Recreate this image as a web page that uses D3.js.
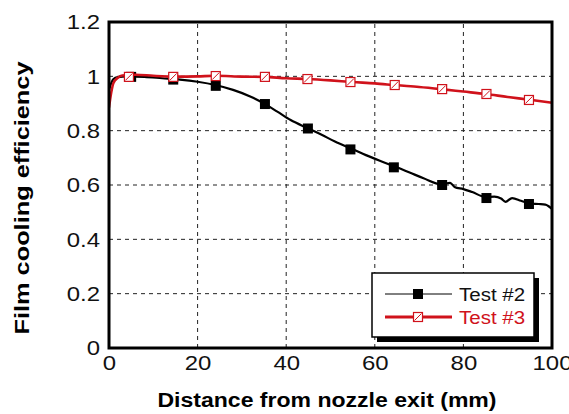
<!DOCTYPE html>
<html>
<head>
<meta charset="utf-8">
<script src="https://cdn.jsdelivr.net/npm/d3@7"></script>
<style>
  html, body { margin: 0; padding: 0; background: #fff; }
  text { font-family: "Liberation Sans", Arial, sans-serif; }
</style>
</head>
<body>
<div id="chart"></div>
<script>
// curve traces
const test2Line = [
  [0, 0.95], [0.5, 0.975], [1, 0.99], [2, 0.997], [4, 1.0], [8, 0.998], [12, 0.993],
  [16, 0.988], [20, 0.98], [24, 0.968], [28, 0.95], [32, 0.925], [35, 0.9],
  [38, 0.87], [41, 0.839], [45, 0.808], [48, 0.785], [51, 0.76], [55, 0.732],
  [58, 0.71], [61, 0.69], [65, 0.665], [68, 0.645], [71, 0.625], [75, 0.603],
  [77, 0.608], [78, 0.593], [80, 0.585], [82, 0.574], [85, 0.556], [87, 0.557],
  [88.5, 0.55], [89.5, 0.538], [91, 0.552], [93, 0.542], [95, 0.532], [97, 0.53],
  [98.5, 0.528], [100, 0.512]
];
const test3Line = [
  [0, 0.885], [0.5, 0.94], [1, 0.975], [2, 0.995], [3, 1.003], [6, 1.006], [10, 1.002],
  [15, 0.999], [20, 1.0], [24, 1.002], [30, 0.999], [35, 0.998], [40, 0.993],
  [45, 0.99], [50, 0.985], [55, 0.979], [60, 0.974], [65, 0.967], [70, 0.961],
  [75, 0.953], [80, 0.944], [85, 0.935], [90, 0.924], [95, 0.914], [100, 0.903]
];
// marker positions
const test2Marks = [[5, 0.998], [14.5, 0.988], [24.1, 0.965], [35.2, 0.898], [44.9, 0.808],
  [54.5, 0.731], [64.3, 0.665], [75.2, 0.6], [85.2, 0.552], [94.8, 0.53]];
const test3Marks = [[4.5, 0.998], [14.5, 0.998], [24.1, 1.001], [35.2, 0.998], [44.8, 0.99],
  [54.5, 0.979], [64.5, 0.968], [75.2, 0.953], [85.2, 0.935], [94.8, 0.913]];
const xTicks = [0, 20, 40, 60, 80, 100];
const yTicks = [0, 0.2, 0.4, 0.6, 0.8, 1, 1.2];
const seriesNames = ["Test #2", "Test #3"];

const width = 569, height = 414;
const margin = { top: 22, right: 17, bottom: 66, left: 109 };
const red = "#d0121b";
const stretch = 1.14; // the source text is a bit wider than Arial

const svg = d3.select("#chart").append("svg")
  .attr("width", width).attr("height", height);

const widen = sel => sel.each(function () {
  const w = this.getComputedTextLength();
  d3.select(this).attr("textLength", w * stretch).attr("lengthAdjust", "spacingAndGlyphs");
});

const x = d3.scaleLinear().domain([0, 100]).range([margin.left, width - margin.right]);
const y = d3.scaleLinear().domain([0, 1.2]).range([height - margin.bottom, margin.top]);

// grid
svg.append("g").selectAll("line")
  .data(xTicks.slice(1, -1))
  .join("line")
  .attr("x1", d => x(d)).attr("x2", d => x(d))
  .attr("y1", y(0)).attr("y2", y(1.2))
  .attr("stroke", "#222").attr("stroke-width", 1)
  .attr("stroke-dasharray", "4,4");
svg.append("g").selectAll("line")
  .data(yTicks.slice(1, -1))
  .join("line")
  .attr("x1", x(0)).attr("x2", x(100))
  .attr("y1", d => y(d)).attr("y2", d => y(d))
  .attr("stroke", "#222").attr("stroke-width", 1)
  .attr("stroke-dasharray", "4,4");

// axes labels
svg.append("g")
  .attr("transform", `translate(0,${y(0)})`)
  .call(d3.axisBottom(x).tickValues(xTicks).tickSize(0).tickPadding(7).tickFormat(d3.format("d")))
  .call(g => g.select(".domain").remove())
  .selectAll("text")
  .style("font-size", "21px").attr("fill", "#111")
  .attr("font-family", "Liberation Sans, Arial, sans-serif")
  .call(widen);

svg.append("g")
  .attr("transform", `translate(${x(0)},0)`)
  .call(d3.axisLeft(y).tickValues(yTicks).tickSize(0).tickPadding(9).tickFormat(d => d3.format("")(+d.toFixed(1))))
  .call(g => g.select(".domain").remove())
  .selectAll("text")
  .style("font-size", "21px").attr("fill", "#111")
  .attr("font-family", "Liberation Sans, Arial, sans-serif")
  .call(widen);

svg.append("text")
  .attr("x", 327).attr("y", 407)
  .attr("text-anchor", "middle")
  .style("font-size", "20px").style("font-weight", "bold")
  .attr("textLength", 339).attr("lengthAdjust", "spacingAndGlyphs")
  .text("Distance from nozzle exit (mm)");

svg.append("text")
  .attr("transform", `translate(29,198) rotate(-90)`)
  .attr("text-anchor", "middle")
  .style("font-size", "20px").style("font-weight", "bold")
  .attr("textLength", 273).attr("lengthAdjust", "spacingAndGlyphs")
  .text("Film cooling efficiency");

// lines
const line = d3.line().x(d => x(d[0])).y(d => y(d[1])).curve(d3.curveMonotoneX);
svg.append("clipPath").attr("id", "clip")
  .append("rect").attr("x", x(0)).attr("y", y(1.2))
  .attr("width", x(100) - x(0)).attr("height", y(0) - y(1.2));

const plot = svg.append("g").attr("clip-path", "url(#clip)");
plot.append("path").datum(test2Line)
  .attr("d", line).attr("fill", "none").attr("stroke", "#000").attr("stroke-width", 2.2);
plot.selectAll(".m2").data(test2Marks).join("rect")
  .attr("x", d => x(d[0]) - 5).attr("y", d => y(d[1]) - 5)
  .attr("width", 10).attr("height", 10).attr("fill", "#000");

plot.append("path").datum(test3Line)
  .attr("d", line).attr("fill", "none").attr("stroke", red).attr("stroke-width", 2.6);

function redMarker(sel) {
  sel.append("rect")
    .attr("x", -4.5).attr("y", -4.5).attr("width", 9).attr("height", 9)
    .attr("fill", "#fff").attr("stroke", red).attr("stroke-width", 1.2);
  sel.append("line")
    .attr("x1", -3.5).attr("y1", 3.5).attr("x2", 3.5).attr("y2", -3.5)
    .attr("stroke", red).attr("stroke-width", 1);
}
plot.selectAll(".m3").data(test3Marks).join("g")
  .attr("transform", d => `translate(${x(d[0])},${y(d[1])})`)
  .call(redMarker);

// frame
svg.append("rect")
  .attr("x", x(0)).attr("y", y(1.2))
  .attr("width", x(100) - x(0)).attr("height", y(0) - y(1.2))
  .attr("fill", "none").attr("stroke", "#000").attr("stroke-width", 3);

// legend
const lg = svg.append("g").attr("transform", "translate(372,273)");
lg.append("rect").attr("x", 5).attr("y", 5).attr("width", 162).attr("height", 64).attr("fill", "#000");
lg.append("rect").attr("x", 0).attr("y", 0).attr("width", 162).attr("height", 64)
  .attr("fill", "#fff").attr("stroke", "#000").attr("stroke-width", 1.5);

lg.append("line").attr("x1", 13).attr("x2", 80).attr("y1", 21).attr("y2", 21)
  .attr("stroke", "#000").attr("stroke-width", 1);
lg.append("rect").attr("x", 41).attr("y", 16).attr("width", 10).attr("height", 10).attr("fill", "#000");
lg.append("text").attr("x", 87).attr("y", 28).style("font-size", "18px").attr("fill", "#111")
  .text(seriesNames[0]).call(widen);

lg.append("line").attr("x1", 13).attr("x2", 80).attr("y1", 44).attr("y2", 44)
  .attr("stroke", red).attr("stroke-width", 3);
lg.append("g").attr("transform", "translate(46,44)").call(redMarker);
lg.append("text").attr("x", 87).attr("y", 51).style("font-size", "18px").attr("fill", red)
  .text(seriesNames[1]).call(widen);
</script>
</body>
</html>
